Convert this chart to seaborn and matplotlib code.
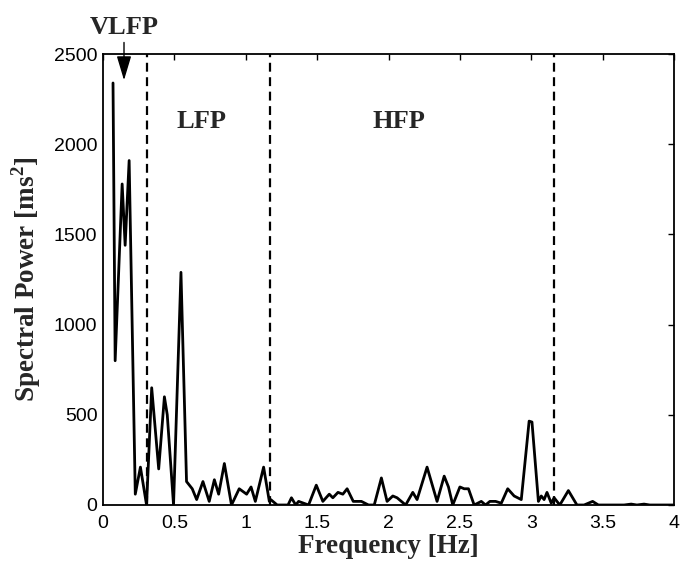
import matplotlib
matplotlib.use("Agg")
import matplotlib.pyplot as plt
import seaborn as sns
import pandas as pd

freq = [0.07, 0.085, 0.134, 0.155, 0.183, 0.226, 0.262, 0.305, 0.341, 0.39, 0.43, 0.45, 0.494,
        0.546, 0.585, 0.625, 0.656, 0.70, 0.744, 0.78, 0.81, 0.85, 0.90, 0.954, 1.006, 1.037,
        1.067, 1.125, 1.165, 1.175, 1.22, 1.296, 1.32, 1.35, 1.37, 1.44, 1.494, 1.54, 1.585,
        1.61, 1.646, 1.68, 1.71, 1.753, 1.81, 1.86, 1.90, 1.95, 1.99, 2.03, 2.06, 2.12, 2.17,
        2.20, 2.27, 2.34, 2.39, 2.42, 2.45, 2.50, 2.53, 2.56, 2.60, 2.65, 2.68, 2.71, 2.75,
        2.79, 2.835, 2.88, 2.93, 2.985, 3.005, 3.05, 3.07, 3.09, 3.11, 3.14, 3.16, 3.20, 3.26,
        3.32, 3.37, 3.43, 3.47, 3.65, 3.70, 3.74, 3.79, 3.83, 4.0]
power = [2340, 800, 1780, 1440, 1910, 60, 210, 0, 650, 200, 600, 500, 0,
         1290, 130, 90, 30, 130, 20, 140, 60, 230, 0, 90, 60, 100,
         20, 210, 20, 30, 0, 0, 40, 0, 20, 0, 110, 20, 60,
         40, 70, 60, 90, 20, 20, 0, 0, 150, 20, 50, 40, 0, 70,
         30, 210, 20, 160, 100, 0, 100, 90, 90, 0, 20, 0, 20, 20,
         10, 90, 50, 30, 465, 460, 20, 50, 30, 70, 10, 40, 0, 80,
         0, 0, 20, 0, 0, 5, 0, 5, 0, 0]
boundaries = [0.31, 1.17, 3.16]
band_labels = ["LFP", "HFP"]
band_label_x = [0.69, 2.07]

df = pd.DataFrame({"f": freq, "p": power})

sns.set_style("white")
plt.rcParams["font.family"] = ["Liberation Sans", "DejaVu Sans"]
plt.rcParams["mathtext.fontset"] = "custom"
plt.rcParams["mathtext.rm"] = "Liberation Serif"
plt.rcParams["mathtext.bf"] = "Liberation Serif:bold"

fig = plt.figure(figsize=(6.8, 5.65), dpi=100)
ax = fig.add_axes([0.1515, 0.1062, 0.8397, 0.798])
sns.lineplot(data=df, x="f", y="p", ax=ax, color="black", linewidth=2.0)

for b in boundaries:
    ax.axvline(b, color="black", linestyle=(0, (4, 2.5)), linewidth=1.6)

serif = ["Liberation Serif", "DejaVu Serif"]
for lab, xx in zip(band_labels, band_label_x):
    ax.text(xx, 2128, lab, ha="center", va="center", fontsize=19,
            fontweight="bold", family=serif)

ax.annotate("", xy=(0.147, 2340), xytext=(0.147, 2580),
            arrowprops=dict(arrowstyle="-|>,head_width=0.45,head_length=1.5",
                            color="black", lw=1.0),
            annotation_clip=False)
ax.text(0.15, 2650, "VLFP", ha="center", va="center", fontsize=19,
        fontweight="bold", family=serif, clip_on=False)

ax.set_xlim(0, 4)
ax.set_ylim(0, 2500)
ax.set_xticks([0, 0.5, 1, 1.5, 2, 2.5, 3, 3.5, 4])
ax.set_xticklabels(["0", "0.5", "1", "1.5", "2", "2.5", "3", "3.5", "4"])
ax.set_yticks([0, 500, 1000, 1500, 2000, 2500])
ax.tick_params(direction="in", top=True, right=True, labelsize=14, length=4,
               width=1, colors="black")
ax.tick_params(axis="x", pad=7)
ax.tick_params(axis="y", pad=4)
for s in ax.spines.values():
    s.set_visible(True)
    s.set_color("black")
    s.set_linewidth(1.3)

ax.set_xlabel("Frequency [Hz]", fontsize=19.5, fontweight="bold", family=serif, labelpad=2)
ax.set_ylabel("Spectral Power [ms$^{\\mathbf{2}}$]", fontsize=19.5, fontweight="bold",
              family=serif, labelpad=8)

fig.savefig("out.png", dpi=100, facecolor="white")
